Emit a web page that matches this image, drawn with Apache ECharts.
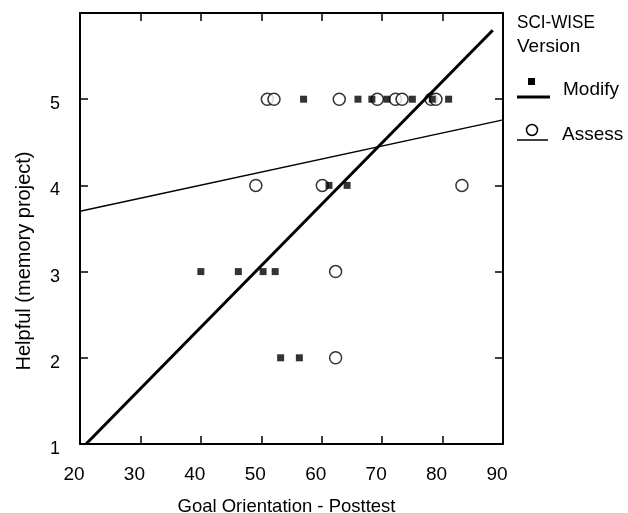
<!DOCTYPE html>
<html>
<head>
<meta charset="utf-8">
<script src="https://cdn.jsdelivr.net/npm/echarts@6/dist/echarts.min.js"></script>
<style>
  html, body { margin: 0; padding: 0; background: #fff; }
  #scatterChart { width: 628px; height: 513px; }
</style>
</head>
<body>
<div id="scatterChart"></div>
<script>
// Modify group (filled squares)
const modifyPoints = [
  [57, 5], [66, 5], [68.3, 5], [70.8, 5], [75, 5], [78.3, 5], [81, 5],
  [61.2, 4], [64.2, 4],
  [40, 3], [46.2, 3], [50.3, 3], [52.3, 3],
  [53.2, 2], [56.3, 2]
];
// Assess group (open circles)
const assessPoints = [
  [51, 5], [52.1, 5], [62.9, 5], [69.2, 5], [72.2, 5], [73.3, 5], [78.1, 5], [78.9, 5],
  [49.1, 4], [60.1, 4], [83.2, 4],
  [62.3, 3],
  [62.3, 2]
];
// fitted lines, end points
const modifyFit = [[21, 1], [88.3, 5.8]];
const assessFit = [[20, 3.70], [90, 4.76]];
const xTicks = [20, 30, 40, 50, 60, 70, 80, 90];
const yTicks = [1, 2, 3, 4, 5];

const chart = echarts.init(document.getElementById('scatterChart'));
const font = 'Liberation Sans, Arial, sans-serif';

const tick = { show: true, inside: true, length: 8, lineStyle: { color: '#000', width: 1.5 } };
const line = { show: true, lineStyle: { color: '#000', width: 2 } };

chart.setOption({
  animation: false,
  grid: { left: 80, right: 125, top: 13, bottom: 69, outerBoundsMode: 'none' },
  xAxis: [
    {
      type: 'value', min: 20, max: 90, interval: 10,
      axisLine: line, axisTick: tick, splitLine: { show: false },
      axisLabel: {
        color: '#000', fontSize: 19, fontFamily: font, margin: 21, padding: [0, 12, 0, 0],
        formatter: v => xTicks.indexOf(v) >= 0 ? String(v) : ''
      },
      name: 'Goal Orientation - Posttest',
      nameLocation: 'middle', nameGap: 53,
      nameTextStyle: { color: '#000', fontSize: 18.5, fontFamily: font, padding: [0, 10, 0, 0] }
    },
    {
      type: 'value', position: 'top', min: 20, max: 90, interval: 10,
      axisLine: line, axisTick: tick, axisLabel: { show: false }, splitLine: { show: false }
    }
  ],
  yAxis: [
    {
      type: 'value', min: 1, max: 6, interval: 1,
      axisLine: line, axisTick: tick, splitLine: { show: false },
      axisLabel: {
        margin: 20, showMaxLabel: false,
        formatter: v => yTicks.indexOf(v) >= 0 ? '{v|' + v + '}' : '',
        rich: { v: { color: '#000', fontSize: 18, fontFamily: font, padding: [10, 0, 0, 0] } }
      }
    },
    {
      type: 'value', position: 'right', min: 1, max: 6, interval: 1,
      axisLine: line, axisTick: tick, axisLabel: { show: false }, splitLine: { show: false }
    }
  ],
  graphic: [
    {
      type: 'text', x: 24, y: 261, rotation: Math.PI / 2,
      style: { text: 'Helpful (memory project)', fill: '#000', font: '20px ' + font, align: 'center', verticalAlign: 'middle' }
    },
    { type: 'text', x: 517, y: 23, scaleX: 0.9, style: { text: 'SCI-WISE', fill: '#000', font: '19px ' + font, verticalAlign: 'middle' } },
    { type: 'text', x: 517, y: 47, style: { text: 'Version', fill: '#000', font: '19px ' + font, verticalAlign: 'middle' } },
    { type: 'rect', shape: { x: 528, y: 78, width: 7, height: 7 }, style: { fill: '#000' } },
    { type: 'line', shape: { x1: 517, y1: 97, x2: 550, y2: 97 }, style: { stroke: '#000', lineWidth: 3 } },
    { type: 'text', x: 563, y: 89.5, style: { text: 'Modify', fill: '#000', font: '19px ' + font, verticalAlign: 'middle' } },
    { type: 'circle', shape: { cx: 532, cy: 130, r: 5.5 }, style: { fill: '#fff', stroke: '#000', lineWidth: 1.5 } },
    { type: 'line', shape: { x1: 517, y1: 140, x2: 548, y2: 140 }, style: { stroke: '#000', lineWidth: 1.5 } },
    { type: 'text', x: 562, y: 134.5, style: { text: 'Assess', fill: '#000', font: '19px ' + font, verticalAlign: 'middle' } }
  ],
  series: [
    {
      name: 'Assess', type: 'scatter', data: assessPoints,
      symbol: 'circle', symbolSize: 12,
      itemStyle: { color: '#fff', borderColor: '#000', borderWidth: 1.5 }
    },
    {
      name: 'Modify', type: 'scatter', data: modifyPoints,
      symbol: 'rect', symbolSize: 7,
      itemStyle: { color: '#000' }
    },
    {
      name: 'Modify fit', type: 'line', data: modifyFit, symbol: 'none',
      lineStyle: { color: '#000', width: 3 }
    },
    {
      name: 'Assess fit', type: 'line', data: assessFit, symbol: 'none',
      lineStyle: { color: '#000', width: 1.5 }
    }
  ]
});
</script>
</body>
</html>
